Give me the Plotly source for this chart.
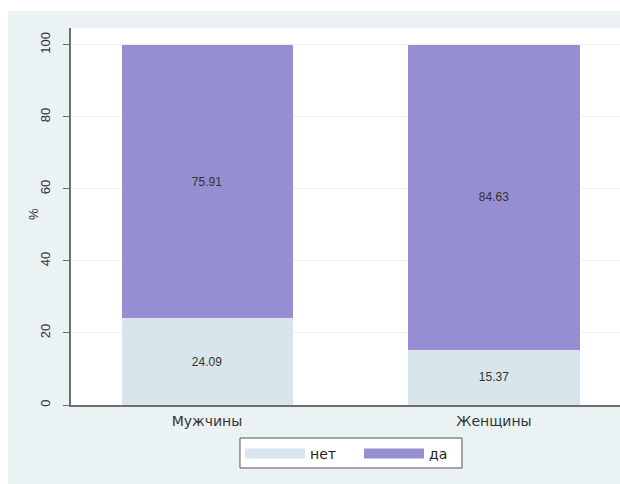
import plotly.graph_objects as go

categories = ["Мужчины", "Женщины"]
net_values = [24.09, 15.37]
da_values = [75.91, 84.63]
series_names = ["нет", "да"]
series_colors = ["#D9E5EC", "#958FD2"]
y_ticks = [0, 20, 40, 60, 80, 100]

x_pos = list(range(len(categories)))

fig = go.Figure()
for name, vals, col in zip(series_names, [net_values, da_values], series_colors):
    fig.add_trace(go.Bar(
        x=x_pos, y=vals, name=name, legendgroup=name, showlegend=False,
        marker=dict(color=col, line=dict(width=0)),
        text=[f"{v:.2f}" for v in vals], textposition="inside",
        insidetextanchor="middle",
        textfont=dict(family="Liberation Sans, Arial, sans-serif", size=12, color="#333333"),
        width=0.596,
    ))
# legend entries with wide swatches
for name, col in zip(series_names, series_colors):
    fig.add_trace(go.Scatter(
        x=[None], y=[None], mode="lines", name=name, legendgroup=name,
        line=dict(color=col, width=16), hoverinfo="skip",
    ))

fig.update_layout(
    width=620, height=484,
    barmode="stack",
    paper_bgcolor="white",
    plot_bgcolor="white",
    margin=dict(l=71, r=0, t=28, b=79),
    font=dict(family="DejaVu Sans, sans-serif", size=13, color="#333333"),
    uniformtext=dict(minsize=8, mode="show"),
    shapes=[
        dict(type="rect", xref="paper", yref="paper",
             x0=-0.1148, x1=1.0, y0=-0.3, y1=1.045,
             fillcolor="#EAF2F3", line=dict(width=0), layer="below"),
        dict(type="rect", xref="paper", yref="paper",
             x0=0, x1=1.0, y0=0, y1=1.0,
             fillcolor="white", line=dict(width=0), layer="below"),
        # legend frame
        dict(type="rect", xref="paper", yref="paper",
             x0=0.3078, x1=0.7122, y0=-0.1671, y1=-0.0875,
             fillcolor="white", line=dict(width=1, color="#555555"), layer="above"),
    ],
    annotations=[dict(text="%", xref="paper", yref="paper", x=-0.0692, y=0.5066,
                      xanchor="center", yanchor="middle", showarrow=False, textangle=-90,
                      font=dict(family="Liberation Sans, Arial, sans-serif", size=13, color="#333333"))],
    legend=dict(orientation="h", x=0.3078, xanchor="left", y=-0.0875, yanchor="top",
                borderwidth=0, bgcolor="rgba(0,0,0,0)",
                font=dict(family="DejaVu Sans, sans-serif", size=14, color="#222222"),
                traceorder="normal", itemwidth=60, entrywidth=44),
)
fig.update_xaxes(
    range=[-0.474, 1.439], tickvals=x_pos, ticktext=categories,
    showgrid=False, showline=True, linecolor="#6E6E6E", linewidth=1.5,
    ticks="", tickfont=dict(size=14, color="#333333"), zeroline=False,
    automargin=False, ticklabelstandoff=2,
)
fig.update_yaxes(
    range=[0, 104.7], tickvals=y_ticks, tickangle=-90,
    showgrid=True, gridcolor="#EDF3F4", gridwidth=1,
    showline=True, linecolor="#6E6E6E", linewidth=1.5,
    ticks="outside", ticklen=6, tickcolor="#6E6E6E",
    tickfont=dict(family="Liberation Sans, Arial, sans-serif", size=13, color="#333333"),
    zeroline=False, automargin=False, ticklabelstandoff=8,
)

fig.write_html(
    "out.html",
    config={"displayModeBar": False},
    post_script="document.body.style.margin='0';document.body.style.overflow='hidden';",
)
